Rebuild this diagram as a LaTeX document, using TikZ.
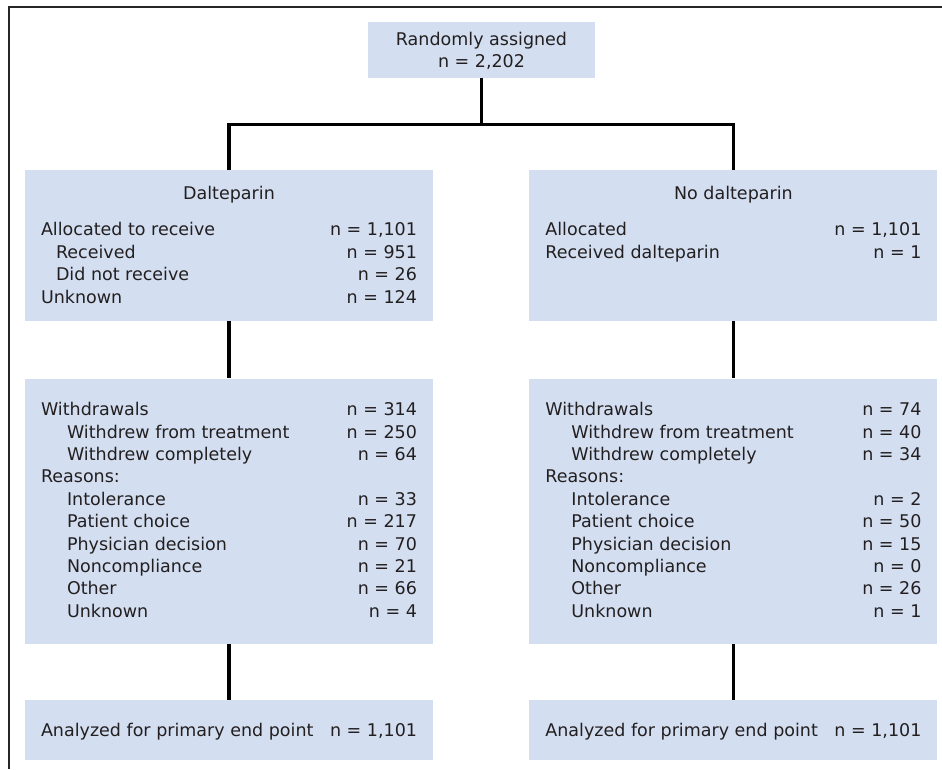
\documentclass[tikz,border=0pt]{standalone}
\usepackage{fontspec}
\setmainfont{DejaVu Sans}
\usepackage{xcolor}
\usetikzlibrary{positioning,calc}
\definecolor{boxblue}{RGB}{211,223,241}
\definecolor{inkgray}{RGB}{35,31,32}
\newenvironment{tally}{\begin{tabular*}{376pt}[t]{@{}l@{\extracolsep{\fill}}r@{}}}{\end{tabular*}}

\begin{document}
\begin{tikzpicture}[
  x=1pt, y=1pt,
  box/.style={fill=boxblue, text=inkgray, inner xsep=16pt, inner ysep=0pt, font=\fontsize{17.5}{22.4}\selectfont},
  link/.style={line width=3.2pt, black}]
  \useasboundingbox (0,0) rectangle (942,-769);
  \draw[line width=1.5pt, black!85] (9,-769) -- (9,-7.2) -- (942,-7.2);
  \node[box, anchor=north, inner xsep=0pt, minimum width=227pt, text height=23pt, text depth=33pt] (rand) at (481.5,-22) {\begin{tabular}[t]{@{}c@{}}Randomly assigned\\ n = 2,202\end{tabular}};
  \node[box, anchor=north, text height=29.3pt, text depth=121.7pt] (dal) at (229,-170) {\begin{tally}
    \multicolumn{2}{c}{Dalteparin}\\[14pt]
    Allocated to receive & n = 1,101\\
    \hspace*{15pt}Received & n = 951\\
    \hspace*{15pt}Did not receive & n = 26\\
    Unknown & n = 124
  \end{tally}};
  \node[box, right=96pt of dal, text height=29.3pt, text depth=121.7pt] (nodal) {\begin{tally}
    \multicolumn{2}{c}{No dalteparin}\\[14pt]
    Allocated & n = 1,101\\
    Received dalteparin & n = 1
  \end{tally}};
  \node[box, below=57pt of dal, text height=37pt, text depth=228pt] (wdal) {\begin{tally}
    Withdrawals & n = 314\\
    \hspace*{26pt}Withdrew from treatment & n = 250\\
    \hspace*{26pt}Withdrew completely & n = 64\\
    Reasons: & \\
    \hspace*{26pt}Intolerance & n = 33\\
    \hspace*{26pt}Patient choice & n = 217\\
    \hspace*{26pt}Physician decision & n = 70\\
    \hspace*{26pt}Noncompliance & n = 21\\
    \hspace*{26pt}Other & n = 66\\
    \hspace*{26pt}Unknown & n = 4
  \end{tally}};
  \node[box, right=96pt of wdal, text height=37pt, text depth=228pt] (wnodal) {\begin{tally}
    Withdrawals & n = 74\\
    \hspace*{26pt}Withdrew from treatment & n = 40\\
    \hspace*{26pt}Withdrew completely & n = 34\\
    Reasons: & \\
    \hspace*{26pt}Intolerance & n = 2\\
    \hspace*{26pt}Patient choice & n = 50\\
    \hspace*{26pt}Physician decision & n = 15\\
    \hspace*{26pt}Noncompliance & n = 0\\
    \hspace*{26pt}Other & n = 26\\
    \hspace*{26pt}Unknown & n = 1
  \end{tally}};
  \node[box, below=56pt of wdal, text height=36pt, text depth=24pt] (andal) {\begin{tally}
    Analyzed for primary end point & n = 1,101
  \end{tally}};
  \node[box, right=96pt of andal, text height=36pt, text depth=24pt] (annodal) {\begin{tally}
    Analyzed for primary end point & n = 1,101
  \end{tally}};
  \coordinate (split) at ($(rand.south)+(0,-46)$);
  \draw[link] (rand.south) -- (split);
  \draw[link] (dal.north) |- (split) -| (nodal.north);
  \draw[link] (dal) -- (wdal);
  \draw[link] (nodal) -- (wnodal);
  \draw[link] (wdal) -- (andal);
  \draw[link] (wnodal) -- (annodal);
\end{tikzpicture}
\end{document}
